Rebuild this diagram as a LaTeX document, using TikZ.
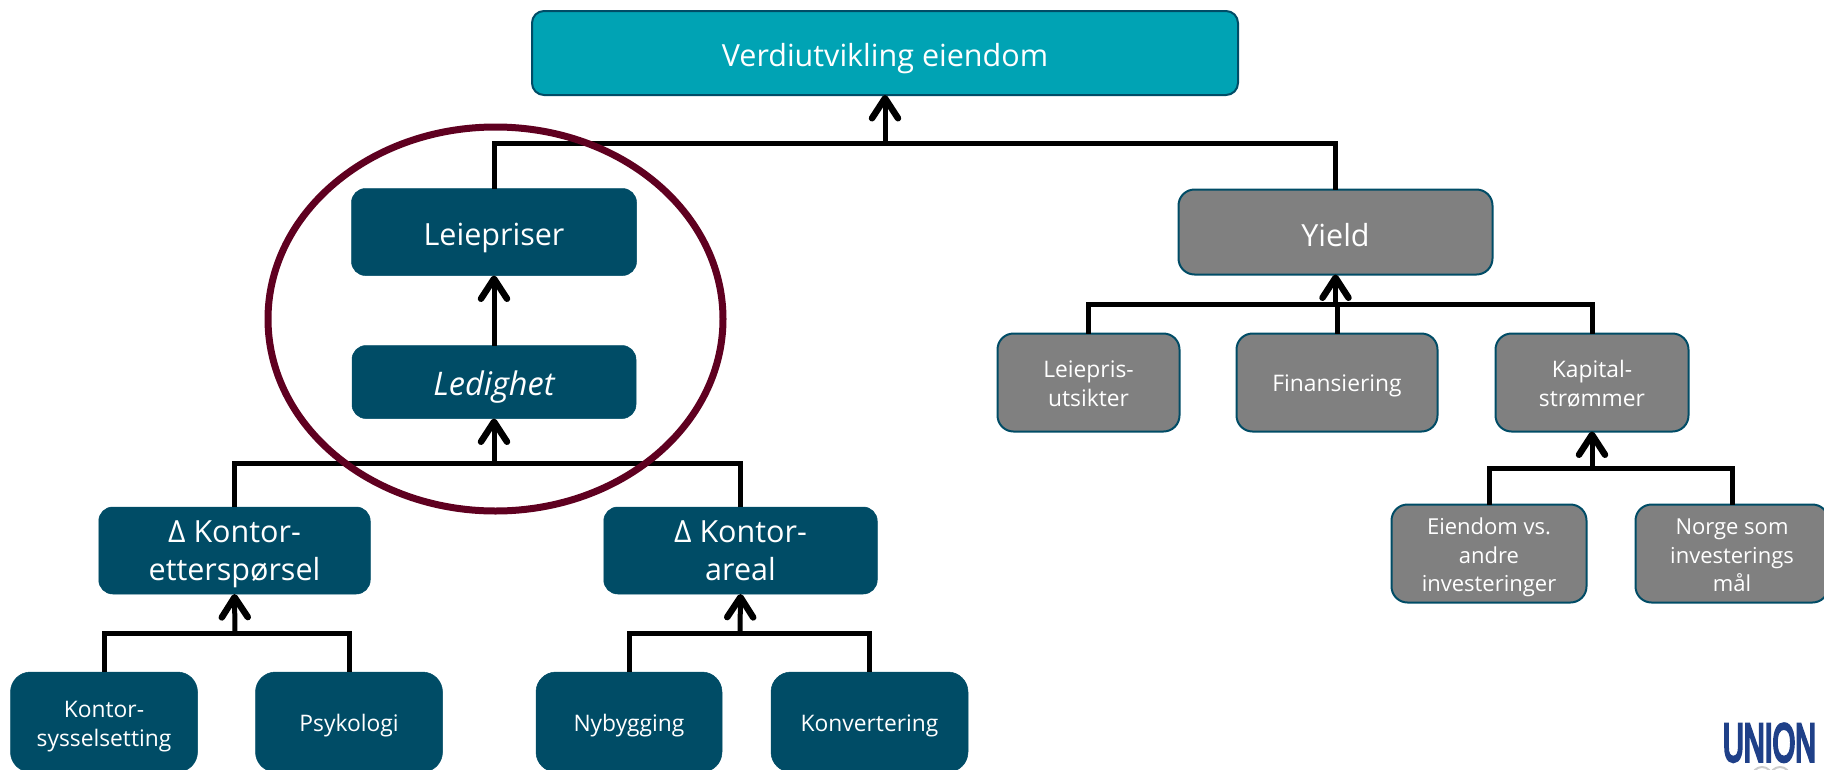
\documentclass[tikz,border=0pt]{standalone}
\usepackage{fontspec}
\usepackage{graphicx}
\setmainfont{Open Sans}
\newfontfamily\logofont[FakeBold=7]{Liberation Sans}
\usetikzlibrary{arrows.meta,shapes.geometric}
\definecolor{tealdark}{HTML}{004C66}
\definecolor{tealtop}{HTML}{00A3B4}
\definecolor{boxgray}{HTML}{808080}
\definecolor{maroon}{HTML}{5F0020}
\definecolor{unionblue}{HTML}{1F4088}
\newcommand{\bstrut}[2]{\rule[-#2pt]{0pt}{\dimexpr#1pt+#2pt\relax}}
\newcommand{\dnmid}{\rule{0pt}{1pt}\\[-9.4pt]}
\newcommand{\dnsmall}{\rule{0pt}{1pt}\\[-4.5pt]}
\tikzset{
  every node/.style={inner sep=0pt,outer sep=0pt,align=center,text=white},
  dbox/.style={draw=tealdark,fill=tealdark,line width=0.5pt,rounded corners=14pt},
  gbox/.style={draw=tealdark,fill=boxgray,line width=2pt,rounded corners=16pt},
  big/.style={font=\fontsize{30.5}{38}\selectfont,execute at begin node={\bstrut{35}{6}}},
  mid/.style={font=\fontsize{30.5}{38}\selectfont},
  small/.style={font=\fontsize{22.8}{28.5}\selectfont,execute at begin node={\bstrut{24}{6}}},
  multi/.style={font=\fontsize{22.8}{28.5}\selectfont},
  bus/.style={draw=black,line width=5pt,line join=miter},
  arrow/.style={draw=black,line width=5pt,-{Straight Barb[length=20pt,width=26pt,line width=6.5pt,line cap=round,round]}},
}
\begin{document}
\begin{tikzpicture}[x=1pt,y=-1pt]
\useasboundingbox (0,0) rectangle (1824,769);
% boxes
\node[dbox,big,fill=tealtop,line width=2pt,minimum width=706pt,minimum height=84pt,rounded corners=12pt] (top) at (885,53) {Verdiutvikling eiendom};
\node[dbox,big,minimum width=285pt,minimum height=87pt] (leie) at (494,232) {Leiepriser};
\node[dbox,big,minimum width=284pt,minimum height=73pt,font=\fontsize{32.5}{38}\selectfont\itshape] (led) at (494,382) {Ledighet};
\node[dbox,mid,minimum width=271.5pt,minimum height=87pt] (eter) at (234.5,550.5) {\dnmid Δ Kontor-\\etterspørsel};
\node[dbox,mid,minimum width=273.5pt,minimum height=87pt] (areal) at (740.5,550.5) {\dnmid Δ Kontor-\\areal\bstrut{0}{7}};
\node[dbox,multi,minimum width=187pt,minimum height=100pt,rounded corners=20pt] (syss) at (104,722) {\dnsmall Kontor-\\sysselsetting};
\node[dbox,small,minimum width=187pt,minimum height=100pt,rounded corners=20pt] (psyk) at (349,722) {Psykologi};
\node[dbox,small,minimum width=186pt,minimum height=100pt,rounded corners=20pt] (nyb) at (629,722) {Nybygging};
\node[dbox,small,minimum width=197pt,minimum height=100pt,rounded corners=20pt] (konv) at (869.5,722) {Konvertering};
\node[gbox,big,minimum width=314pt,minimum height=85pt] (yield) at (1335.5,232) {Yield};
\node[gbox,multi,minimum width=182pt,minimum height=98pt] (utsikt) at (1088.5,382.5) {\dnsmall Leiepris-\\utsikter\bstrut{0}{6}};
\node[gbox,small,minimum width=201pt,minimum height=98pt] (fin) at (1337,382.5) {Finansiering};
\node[gbox,multi,minimum width=193pt,minimum height=98pt] (kap) at (1592,382.5) {\dnsmall Kapital-\\strømmer\bstrut{0}{6}};
\node[gbox,multi,minimum width=195pt,minimum height=98pt,font=\fontsize{22}{28.5}\selectfont] (eien) at (1489,553.5) {\dnsmall Eiendom vs.\\andre\\investeringer};
\node[gbox,multi,minimum width=193pt,minimum height=98pt,font=\fontsize{22}{28.5}\selectfont] (norge) at (1732,553.5) {\dnsmall Norge som\\investerings\\mål\bstrut{0}{6}};
% bus coordinates
\coordinate (b1) at (885,143);
\coordinate (b2) at (494,463);
\coordinate (b3) at (235,633);
\coordinate (b4) at (740,633);
\coordinate (b5) at (1335.5,304);
\coordinate (b6) at (1592,468);
% connectors
\draw[bus] (leie.north) |- (b1) -| (yield.north);
\draw[arrow] (b1) -- (top.south);
\draw[arrow] (led.north) -- (leie.south);
\draw[bus] (eter.north) |- (b2) -| (areal.north);
\draw[arrow] (b2) -- (led.south);
\draw[bus] (syss.north) |- (b3) -| (psyk.north);
\draw[arrow] (b3) -- (eter.south);
\draw[bus] (nyb.north) |- (b4) -| (konv.north);
\draw[arrow] (b4) -- (areal.south);
\draw[bus] (utsikt.north) |- (b5) -| (kap.north);
\draw[bus] (fin.north) -- (fin.north |- b5);
\draw[arrow] (b5) -- (yield.south);
\draw[bus] (eien.north) |- (b6) -| (norge.north);
\draw[arrow] (b6) -- (kap.south);
% ring
\node[draw=maroon,line width=7pt,ellipse,minimum width=455pt,minimum height=384pt] (ring) at (495.5,319) {};
% logo
\node[text=unionblue,anchor=north west] (logo) at (1723,724) {\resizebox{93pt}{37pt}{\logofont UNION}};
\draw[draw=black!20,line width=2pt] (1762,777) circle (10pt) (1780,777) circle (10pt);
\end{tikzpicture}
\end{document}
